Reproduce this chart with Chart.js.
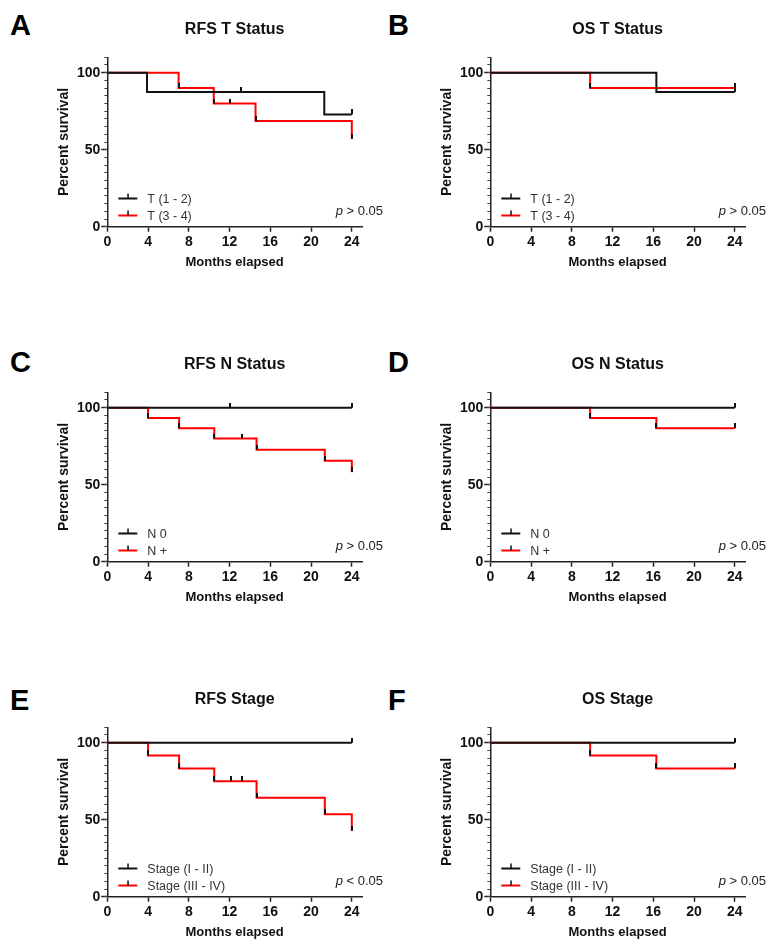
<!DOCTYPE html>
<html>
<head>
<meta charset="utf-8">
<script src="https://cdn.jsdelivr.net/npm/chart.js@4.4.0/dist/chart.umd.min.js"></script>
<style>
  body { margin: 0; background: #fff; width: 778px; height: 947px; position: relative; overflow: hidden;
         font-family: "Liberation Sans", Arial, sans-serif; }
  canvas { position: absolute; }
  .letter { position: absolute; font-size: 29px; font-weight: bold; line-height: 29px; color: #000; }
</style>
</head>
<body>
<div class="letter" style="left:10px; top:11px;">A</div>
<div class="letter" style="left:388px; top:11px;">B</div>
<div class="letter" style="left:10px; top:348px;">C</div>
<div class="letter" style="left:388px; top:348px;">D</div>
<div class="letter" style="left:10px; top:686px;">E</div>
<div class="letter" style="left:388px; top:686px;">F</div>

<canvas id="chartA" width="389" height="277" style="left:0; top:0;"></canvas>
<canvas id="chartB" width="389" height="277" style="left:383px; top:0;"></canvas>
<canvas id="chartC" width="389" height="277" style="left:0; top:335px;"></canvas>
<canvas id="chartD" width="389" height="277" style="left:383px; top:335px;"></canvas>
<canvas id="chartE" width="389" height="277" style="left:0; top:670px;"></canvas>
<canvas id="chartF" width="389" height="277" style="left:383px; top:670px;"></canvas>

<script>
// axis ticks
const monthTicks = [0, 4, 8, 12, 16, 20, 24];
const percentTicks = [0, 50, 100];

const panelTitles = ['RFS T Status', 'OS T Status', 'RFS N Status', 'OS N Status', 'RFS Stage', 'OS Stage'];
const pValueText = ['> 0.05', '> 0.05', '> 0.05', '> 0.05', '< 0.05', '> 0.05'];

// A - RFS T status
const rfsT12Times = [0, 3.9, 21.3, 24];
const rfsT12Surv = [100, 87.5, 72.9, 72.9];
const rfsT12CensTimes = [13.1, 24];
const rfsT12CensSurv = [87.5, 72.9];
const rfsT34Times = [0, 7.0, 10.45, 14.55, 24];
const rfsT34Surv = [100, 90, 80, 68.6, 57.1];
const rfsT34CensTimes = [7.0, 10.45, 12.0, 14.55, 24];
const rfsT34CensSurv = [90, 80, 80, 68.6, 57.1];

// B - OS T status
const osT12Times = [0, 16.3, 24];
const osT12Surv = [100, 87.5, 87.5];
const osT12CensTimes = [24];
const osT12CensSurv = [87.5];
const osT34Times = [0, 9.8, 24];
const osT34Surv = [100, 90, 90];
const osT34CensTimes = [9.8, 24];
const osT34CensSurv = [90, 90];

// C - RFS N status
const rfsN0Times = [0, 24];
const rfsN0Surv = [100, 100];
const rfsN0CensTimes = [12.0, 24];
const rfsN0CensSurv = [100, 100];
const rfsNpTimes = [0, 4.0, 7.05, 10.5, 14.65, 21.35, 24];
const rfsNpSurv = [100, 93.3, 86.7, 80, 72.7, 65.5, 58.2];
const rfsNpCensTimes = [4.0, 7.05, 10.5, 13.2, 14.65, 21.35, 24];
const rfsNpCensSurv = [93.3, 86.7, 80, 80, 72.7, 65.5, 58.2];

// D - OS N status
const osN0Times = [0, 24];
const osN0Surv = [100, 100];
const osN0CensTimes = [24];
const osN0CensSurv = [100];
const osNpTimes = [0, 9.8, 16.3, 24];
const osNpSurv = [100, 93.3, 86.7, 86.7];
const osNpCensTimes = [9.8, 16.3, 24];
const osNpCensSurv = [93.3, 86.7, 86.7];

// E - RFS stage
const rfsS12Times = [0, 24];
const rfsS12Surv = [100, 100];
const rfsS12CensTimes = [24];
const rfsS12CensSurv = [100];
const rfsS34Times = [0, 4.0, 7.05, 10.5, 14.65, 21.35, 24];
const rfsS34Surv = [100, 91.7, 83.3, 75, 64.3, 53.6, 42.9];
const rfsS34CensTimes = [4.0, 7.05, 10.5, 12.1, 13.2, 14.65, 21.35, 24];
const rfsS34CensSurv = [91.7, 83.3, 75, 75, 75, 64.3, 53.6, 42.9];

// F - OS stage
const osS12Times = [0, 24];
const osS12Surv = [100, 100];
const osS12CensTimes = [24];
const osS12CensSurv = [100];
const osS34Times = [0, 9.8, 16.3, 24];
const osS34Surv = [100, 91.7, 83.3, 83.3];
const osS34CensTimes = [9.8, 16.3, 24];
const osS34CensSurv = [91.7, 83.3, 83.3];

const BLACK = '#111';
const RED = '#ff0000';
const FONT = '"Liberation Sans", Arial, sans-serif';

Chart.defaults.font.family = FONT;

// small upward censor tick, used as point style
const censorMark = document.createElement('canvas');
censorMark.width = 2;
censorMark.height = 10;
const cm = censorMark.getContext('2d');
cm.fillStyle = BLACK;
cm.fillRect(0, 0, 2, 5);

function toPoints(times, surv) {
    return times.map((t, i) => ({ x: t, y: surv[i] }));
}

// legend + p value drawn inside the plot area
const kmLegend = {
    id: 'kmLegend',
    afterDatasetsDraw(chart, args, opts) {
        const { ctx, chartArea } = chart;
        ctx.save();
        opts.items.forEach((item, i) => {
            const y = Math.round(chartArea.bottom - 28.5 + i * 17) + 0.5;
            const x0 = chartArea.left + 11;
            ctx.strokeStyle = item.color;
            ctx.lineWidth = 2;
            ctx.beginPath();
            ctx.moveTo(x0, y);
            ctx.lineTo(x0 + 19, y);
            ctx.stroke();
            ctx.fillStyle = BLACK;
            ctx.fillRect(x0 + 9, y - 5, 1.5, 5);
            ctx.fillStyle = '#333';
            ctx.font = '12.5px ' + FONT;
            ctx.textAlign = 'left';
            ctx.textBaseline = 'middle';
            ctx.fillText(item.label, x0 + 29, y + 1);
        });
        const pY = chartArea.bottom - 15;
        const rightX = chartArea.right + 21;
        ctx.fillStyle = '#222';
        ctx.textBaseline = 'middle';
        ctx.textAlign = 'left';
        ctx.font = '13px ' + FONT;
        const rest = ' ' + opts.pText;
        const wRest = ctx.measureText(rest).width;
        ctx.fillText(rest, rightX - wRest, pY);
        ctx.font = 'italic 13px ' + FONT;
        const wP = ctx.measureText('p').width;
        ctx.fillText('p', rightX - wRest - wP, pY);
        ctx.restore();
    }
};

function drawKM(canvasId, title, groups, pText) {
    const datasets = [];
    groups.forEach(g => {
        datasets.push({
            type: 'scatter',
            data: toPoints(g.censTimes, g.censSurv),
            pointStyle: censorMark,
            pointRadius: 4,
            showLine: false,
            xAxisID: 'x',
            yAxisID: 'y'
        });
    });
    groups.forEach(g => {
        datasets.push({
            label: g.label,
            data: toPoints(g.times, g.surv),
            borderColor: g.color,
            borderWidth: 2,
            stepped: 'before',
            pointRadius: 0,
            fill: false,
            xAxisID: 'x',
            yAxisID: 'y'
        });
    });

    new Chart(document.getElementById(canvasId), {
        type: 'line',
        data: { datasets: datasets },
        plugins: [kmLegend],
        options: {
            responsive: false,
            animation: false,
            events: [],
            layout: { padding: { left: 0, right: 27, top: 0, bottom: 0 } },
            plugins: {
                legend: { display: false },
                tooltip: { enabled: false },
                title: {
                    display: true,
                    text: title,
                    fullSize: false,
                    color: '#111',
                    font: { size: 16, weight: 'bold', lineHeight: 1.2 },
                    padding: { top: 20.4, bottom: 17.7 }
                },
                kmLegend: { items: groups, pText: pText }
            },
            scales: {
                x: {
                    type: 'linear',
                    min: 0,
                    max: 25,
                    afterFit: s => { s.height = 50.3; },
                    afterBuildTicks: s => { s.ticks = monthTicks.map(v => ({ value: v })); },
                    border: { display: true, color: '#222', width: 1.5 },
                    grid: { drawOnChartArea: false, tickLength: 5, tickColor: '#222', tickWidth: 1.5 },
                    ticks: { padding: 2.5, color: '#111', maxRotation: 0, autoSkip: false,
                             font: { size: 14, weight: 'bold' } },
                    title: { display: true, text: 'Months elapsed', color: '#111',
                             font: { size: 13, weight: 'bold', lineHeight: 1.2 },
                             padding: { top: 0, bottom: 6.7 } }
                },
                y: {
                    type: 'linear',
                    position: 'left',
                    weight: 1,
                    min: 0,
                    max: 110,
                    afterFit: s => { s.width = 107.3; },
                    afterBuildTicks: s => { s.ticks = percentTicks.map(v => ({ value: v })); },
                    border: { display: true, color: '#222', width: 1.5 },
                    grid: { drawOnChartArea: false, tickLength: 6, tickColor: '#222', tickWidth: 1.5 },
                    ticks: { padding: 1, color: '#111', font: { size: 14, weight: 'bold' } },
                    title: { display: true, text: 'Percent survival', color: '#111',
                             font: { size: 14, weight: 'bold', lineHeight: 1.2 },
                             padding: { top: 56, bottom: 0 } }
                },
                yMinor: {
                    type: 'linear',
                    position: 'left',
                    weight: 0,
                    min: 0,
                    max: 110,
                    afterFit: s => { s.width = 0; },
                    border: { display: false },
                    grid: { drawOnChartArea: false, tickLength: 3, tickColor: '#444', tickWidth: 1 },
                    ticks: { display: false, stepSize: 5 }
                }
            }
        }
    });
}

drawKM('chartA', panelTitles[0], [
    { label: 'T (1 - 2)', color: BLACK, times: rfsT12Times, surv: rfsT12Surv, censTimes: rfsT12CensTimes, censSurv: rfsT12CensSurv },
    { label: 'T (3 - 4)', color: RED, times: rfsT34Times, surv: rfsT34Surv, censTimes: rfsT34CensTimes, censSurv: rfsT34CensSurv }
], pValueText[0]);

drawKM('chartB', panelTitles[1], [
    { label: 'T (1 - 2)', color: BLACK, times: osT12Times, surv: osT12Surv, censTimes: osT12CensTimes, censSurv: osT12CensSurv },
    { label: 'T (3 - 4)', color: RED, times: osT34Times, surv: osT34Surv, censTimes: osT34CensTimes, censSurv: osT34CensSurv }
], pValueText[1]);

drawKM('chartC', panelTitles[2], [
    { label: 'N 0', color: BLACK, times: rfsN0Times, surv: rfsN0Surv, censTimes: rfsN0CensTimes, censSurv: rfsN0CensSurv },
    { label: 'N +', color: RED, times: rfsNpTimes, surv: rfsNpSurv, censTimes: rfsNpCensTimes, censSurv: rfsNpCensSurv }
], pValueText[2]);

drawKM('chartD', panelTitles[3], [
    { label: 'N 0', color: BLACK, times: osN0Times, surv: osN0Surv, censTimes: osN0CensTimes, censSurv: osN0CensSurv },
    { label: 'N +', color: RED, times: osNpTimes, surv: osNpSurv, censTimes: osNpCensTimes, censSurv: osNpCensSurv }
], pValueText[3]);

drawKM('chartE', panelTitles[4], [
    { label: 'Stage (I - II)', color: BLACK, times: rfsS12Times, surv: rfsS12Surv, censTimes: rfsS12CensTimes, censSurv: rfsS12CensSurv },
    { label: 'Stage (III - IV)', color: RED, times: rfsS34Times, surv: rfsS34Surv, censTimes: rfsS34CensTimes, censSurv: rfsS34CensSurv }
], pValueText[4]);

drawKM('chartF', panelTitles[5], [
    { label: 'Stage (I - II)', color: BLACK, times: osS12Times, surv: osS12Surv, censTimes: osS12CensTimes, censSurv: osS12CensSurv },
    { label: 'Stage (III - IV)', color: RED, times: osS34Times, surv: osS34Surv, censTimes: osS34CensTimes, censSurv: osS34CensSurv }
], pValueText[5]);
</script>
</body>
</html>
